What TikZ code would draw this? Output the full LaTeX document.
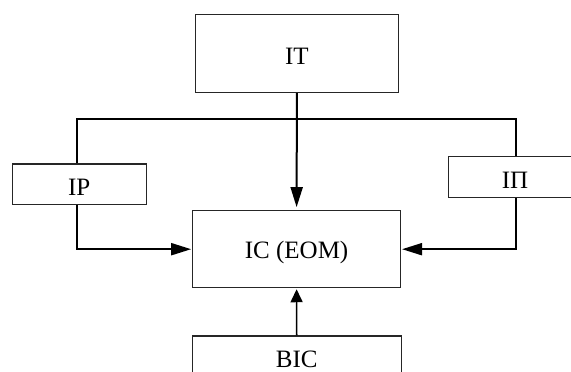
\documentclass[tikz,border=0pt]{standalone}
\usepackage{fontspec}
\setmainfont{Liberation Serif}
\usetikzlibrary{arrows.meta}
\newcommand{\lowtxt}[1]{\raisebox{-3pt}[\height][\depth]{#1}}
\begin{document}
\begin{tikzpicture}[x=1pt,y=1pt,
  blk/.style={draw=black!85, line width=1.1pt, inner sep=0pt, font=\fontsize{25}{30}\selectfont},
  conn/.style={line width=2pt, draw=black},
  arr/.style={conn, -{Triangle[length=20pt,width=12pt]}},
  arrsmall/.style={line width=1.6pt, -{Triangle[length=13pt,width=12pt]}}]
\clip (0,0) rectangle (571,372);
\fill[white] (0,0) rectangle (571,372);
\node[blk, minimum width=203.4pt, minimum height=78pt] (IT) at (296.9,318.3) {\lowtxt{ІТ}};
\node[blk, minimum width=207.8pt, minimum height=77pt] (IC) at (296.6,122.8) {\lowtxt{ІС (ЕОМ)}};
\node[blk, minimum width=133.7pt, minimum height=40.3pt] (IP) at (79.2,187.8) {\lowtxt{ІР}};
\node[blk, minimum width=133.4pt, minimum height=40.6pt] (IIP) at (515,195) {\lowtxt{ІП}};
\node[blk, minimum width=208.7pt, minimum height=40pt] (BIC) at (296.7,16) {\lowtxt{ВІС}};
\coordinate (hl) at (76.7,252.7);
\coordinate (hr) at (515.7,252.7);
\draw[conn, line width=1.7pt] (hl |- IP.north) -- (hl) -- (hr) -- (hr |- IIP.north);
\draw[arr, shorten >=3pt] (IT.south) -- (IC.north);
\draw[arr, shorten >=1pt] (hl |- IP.south) |- (IC.west);
\draw[arr, shorten >=1pt] (hr |- IIP.south) |- (IC.east);
\draw[arrsmall, shorten >=1pt] (BIC.north) -- (IC.south);
\end{tikzpicture}
\end{document}
